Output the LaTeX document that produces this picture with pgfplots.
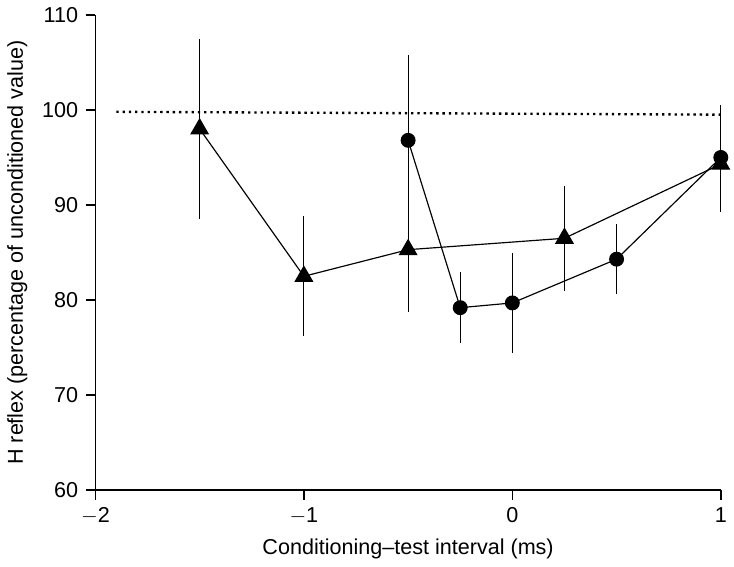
\documentclass[border=0pt]{standalone}
\usepackage{pgfplots}
\pgfplotsset{compat=1.18}
\usepackage{fontspec}
\setmainfont{Liberation Sans}
\begin{document}
\fontsize{11}{13}\selectfont
\begin{tikzpicture}
\begin{axis}[
  scale only axis, width=319pt, height=242.5pt,
  xmin=-2, xmax=1, ymin=60, ymax=110,
  axis lines=left, axis line style={-, line width=0.8pt},
  xtick={-2,-1,0,1}, xticklabels={$-$2,$-$1,0,1},
  ytick={60,70,...,110},
  tick align=outside, tick style={black, line width=0.8pt},
  major tick length=5pt,
  /pgf/number format/assume math mode=true,
  xlabel={Conditioning--test interval (ms)},
  ylabel={H reflex (percentage of unconditioned value)},
  clip=false,
]
\addplot[black, dotted, line width=1.2pt] coordinates {(-1.9,99.8) (1,99.5)};
\addplot[black, line width=0.6pt, mark=triangle*, mark size=5pt,
  error bars/.cd, y dir=both, y explicit, error mark=none, error bar style={line width=0.6pt}]
  coordinates {
  (-1.5,98) +- (0,9.5)
  (-1,82.5) +- (0,6.3)
  (-0.5,85.3) +- (0,6.6)
  (0.25,86.5) +- (0,5.5)
  (1,94.3) +- (0,5)
};
\addplot[black, line width=0.6pt, mark=*, mark size=3.5pt,
  error bars/.cd, y dir=both, y explicit, error mark=none, error bar style={line width=0.6pt}]
  coordinates {
  (-0.5,96.8) +- (0,9)
  (-0.25,79.2) +- (0,3.7)
  (0,79.7) +- (0,5.3)
  (0.5,84.3) +- (0,3.7)
  (1,95) +- (0,5.5)
};
\end{axis}
\end{tikzpicture}
\end{document}
